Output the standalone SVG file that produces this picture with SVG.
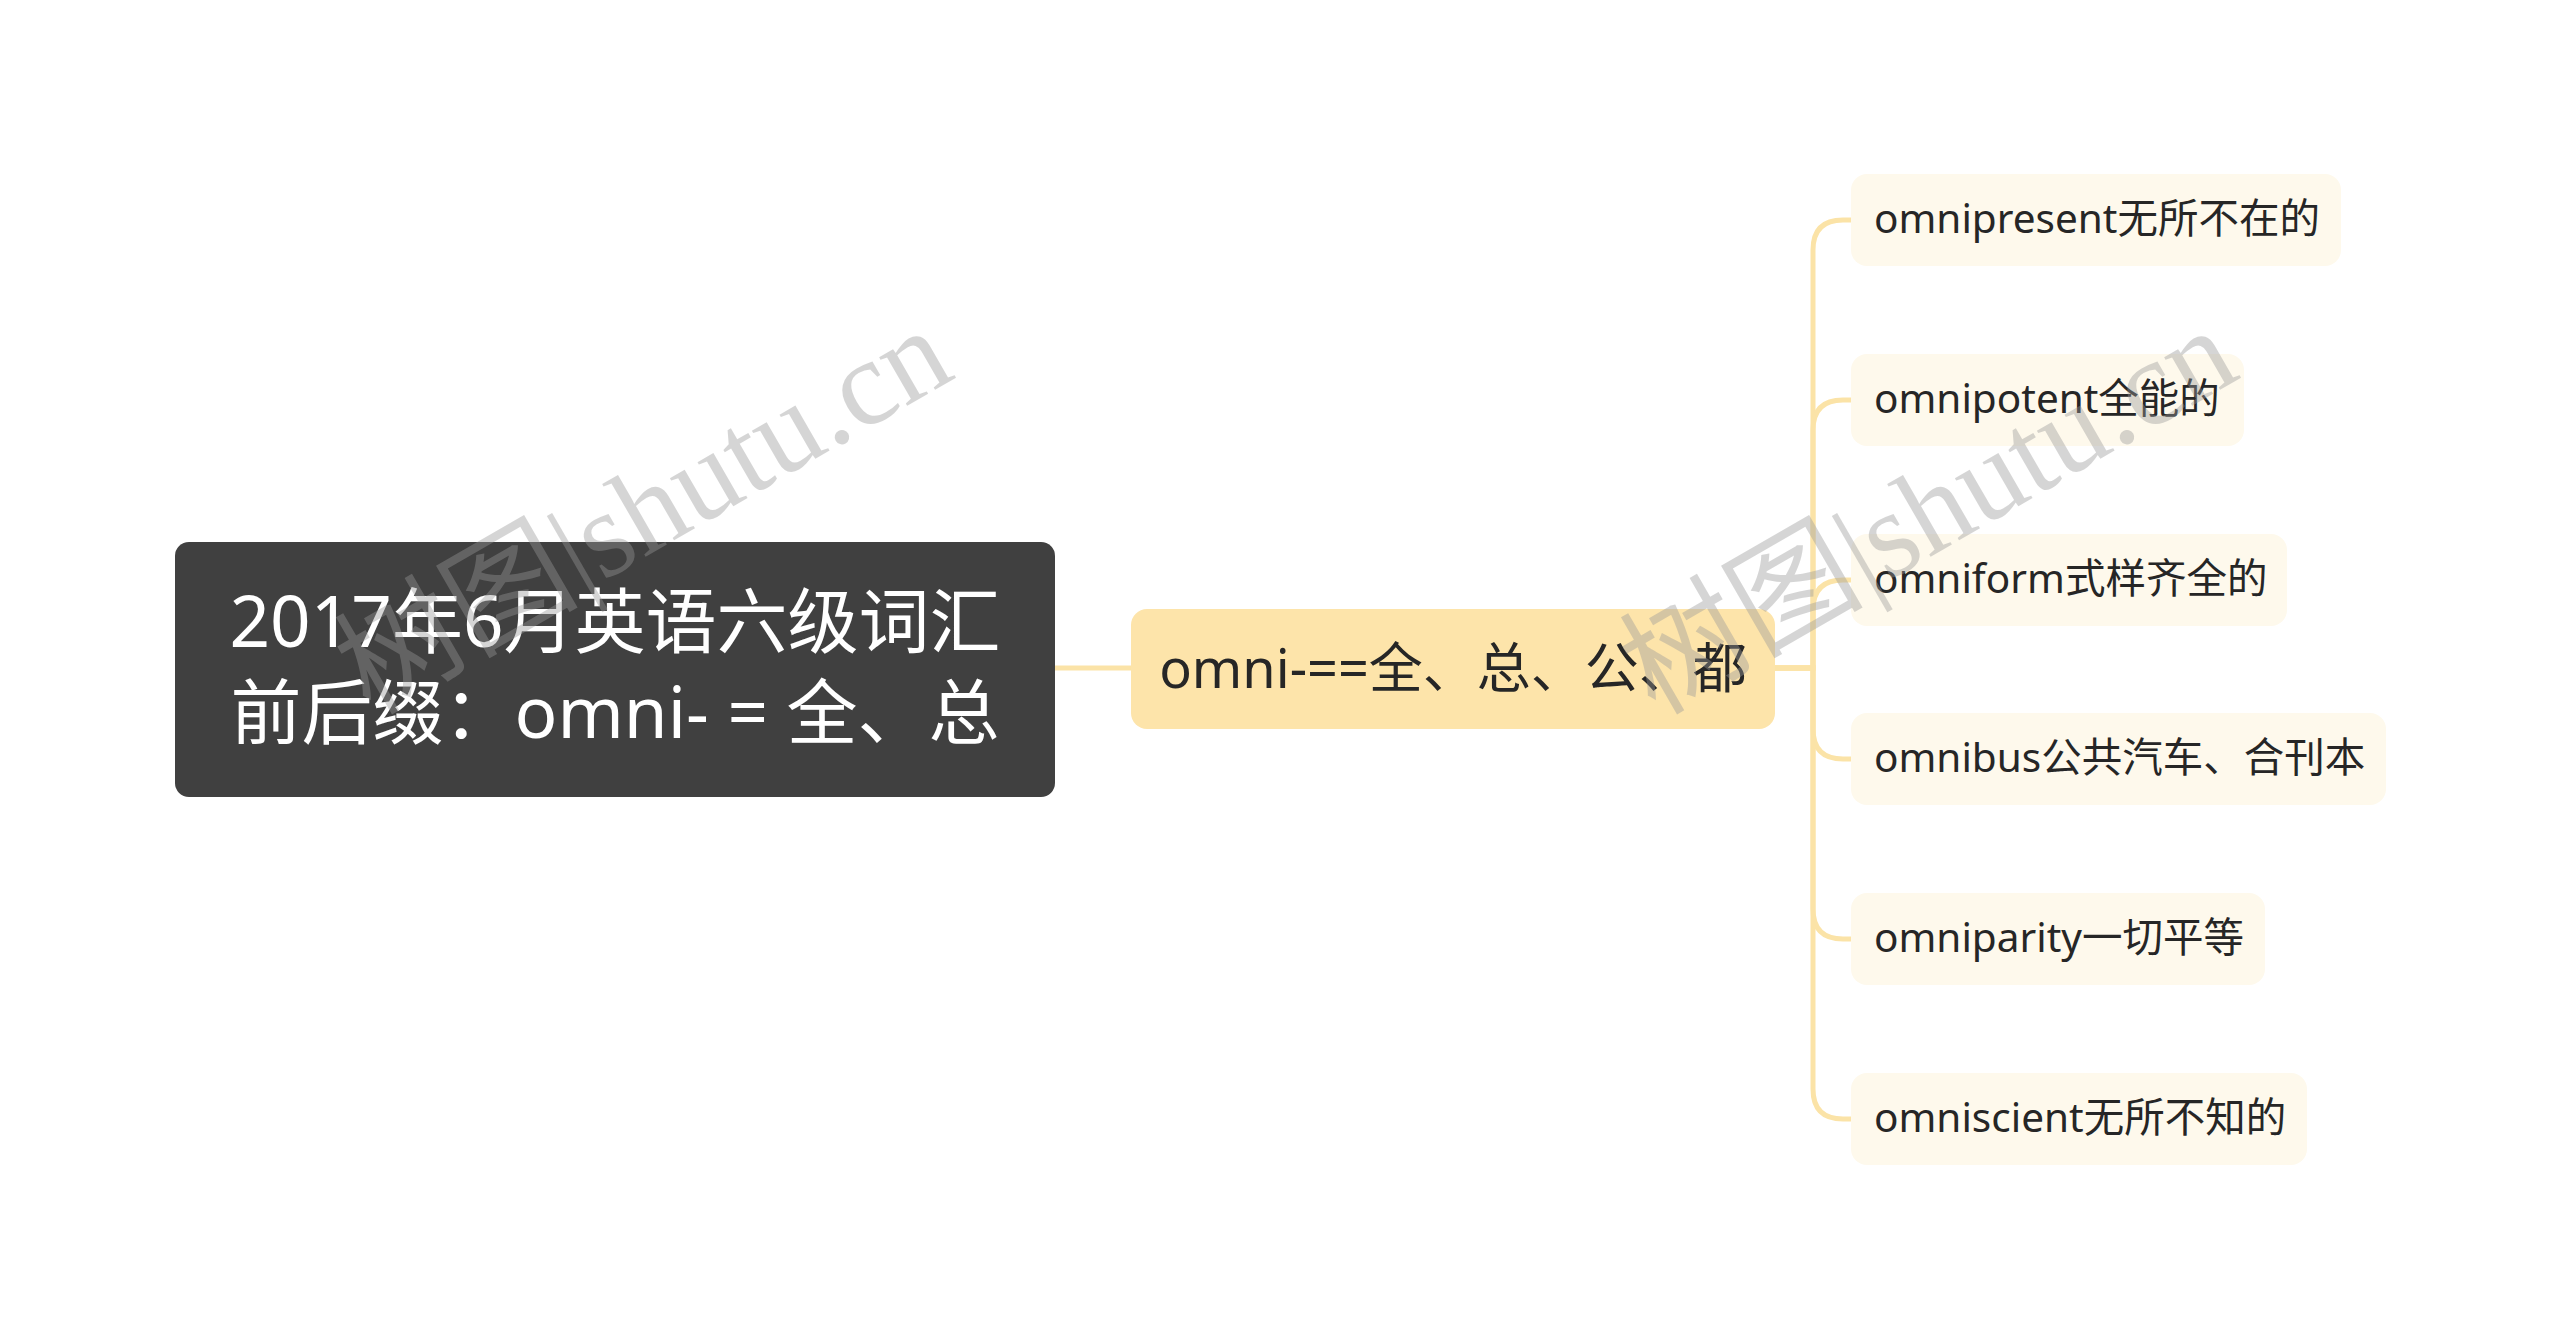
<svg xmlns="http://www.w3.org/2000/svg" width="2560" height="1339" viewBox="0 0 2560 1339">
<style>
.t{font-family:"Noto Sans","Noto Sans CJK SC",sans-serif;}
.root-box{fill:#404040;}
.root-t{fill:#ffffff;font-size:71px;text-anchor:middle;}
.mid-box{fill:#FDE4AA;}
.mid-t{fill:#262626;font-size:54px;text-anchor:middle;}
.leaf-box{fill:#FEF9EC;}
.leaf-t{fill:#262626;font-size:40.5px;}
.conn{fill:none;stroke:#FBE3A7;stroke-width:5;stroke-linecap:round;}
.wm{font-family:"Liberation Serif","Noto Sans CJK SC",serif;font-size:122px;fill:#999999;opacity:0.4;}
</style>
<rect width="2560" height="1339" fill="#ffffff"/>
<g id="connectors">
<path class="conn" d="M1055,668 H1131"/>
<path class="conn" d="M1775,668 H1813 V250 Q1813,220 1843,220 H1851"/>
<path class="conn" d="M1775,668 H1813 V430 Q1813,400 1843,400 H1851"/>
<path class="conn" d="M1775,668 H1813 V610 Q1813,580 1843,580 H1851"/>
<path class="conn" d="M1775,668 H1813 V729 Q1813,759 1843,759 H1851"/>
<path class="conn" d="M1775,668 H1813 V909 Q1813,939 1843,939 H1851"/>
<path class="conn" d="M1775,668 H1813 V1089 Q1813,1119 1843,1119 H1851"/>
</g>
<g id="root">
<rect class="root-box" x="175" y="542" width="880" height="255" rx="14"/>
<text class="t root-t" x="615" y="647">2017年6月英语六级词汇</text>
<text class="t root-t" x="615" y="738">前后缀：omni- = 全、总</text>
</g>
<g id="mid">
<rect class="mid-box" x="1131" y="609" width="644" height="120" rx="16"/>
<text class="t mid-t" x="1453" y="688">omni-==全、总、公、都</text>
</g>
<g id="leaf1">
<rect class="leaf-box" x="1851" y="174" width="490" height="92" rx="16"/>
<text class="t leaf-t" x="1874" y="233">omnipresent无所不在的</text>
</g>
<g id="leaf2">
<rect class="leaf-box" x="1851" y="354" width="393" height="92" rx="16"/>
<text class="t leaf-t" x="1874" y="413">omnipotent全能的</text>
</g>
<g id="leaf3">
<rect class="leaf-box" x="1851" y="534" width="436" height="92" rx="16"/>
<text class="t leaf-t" x="1874" y="593">omniform式样齐全的</text>
</g>
<g id="leaf4">
<rect class="leaf-box" x="1851" y="713" width="535" height="92" rx="16"/>
<text class="t leaf-t" x="1874" y="772">omnibus公共汽车、合刊本</text>
</g>
<g id="leaf5">
<rect class="leaf-box" x="1851" y="893" width="414" height="92" rx="16"/>
<text class="t leaf-t" x="1874" y="952">omniparity一切平等</text>
</g>
<g id="leaf6">
<rect class="leaf-box" x="1851" y="1073" width="456" height="92" rx="16"/>
<text class="t leaf-t" x="1874" y="1132">omniscient无所不知的</text>
</g>
<g id="watermarks">
<text class="wm" transform="translate(370,716) rotate(-30)">树图|shutu.cn</text>
<text class="wm" transform="translate(1655,716) rotate(-30)">树图|shutu.cn</text>
</g>
</svg>
